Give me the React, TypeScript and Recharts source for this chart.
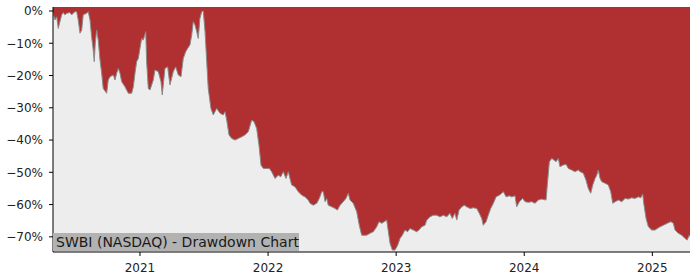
import { Area, AreaChart, XAxis, YAxis } from "recharts"

// time as decimal year, drawdown in percent
const years = [
  2020.321, 2020.336, 2020.35, 2020.362, 2020.375, 2020.389, 2020.401, 2020.414, 2020.428, 2020.453,
  2020.467, 2020.492, 2020.506, 2020.518, 2020.532, 2020.545, 2020.557, 2020.584, 2020.596, 2020.61,
  2020.623, 2020.635, 2020.643, 2020.651, 2020.662, 2020.674, 2020.688, 2020.701, 2020.713, 2020.74,
  2020.752, 2020.766, 2020.792, 2020.805, 2020.818, 2020.831, 2020.844, 2020.857, 2020.883, 2020.909,
  2020.935, 2020.948, 2020.961, 2020.974, 2020.987, 2021.0, 2021.013, 2021.026, 2021.045, 2021.052,
  2021.065, 2021.078, 2021.104, 2021.117, 2021.143, 2021.164, 2021.174, 2021.195, 2021.216, 2021.234,
  2021.26, 2021.279, 2021.299, 2021.32, 2021.338, 2021.357, 2021.372, 2021.39, 2021.404, 2021.416,
  2021.429, 2021.443, 2021.455, 2021.468, 2021.482, 2021.494, 2021.508, 2021.521, 2021.533, 2021.554,
  2021.572, 2021.599, 2021.625, 2021.65, 2021.664, 2021.677, 2021.695, 2021.716, 2021.742, 2021.768,
  2021.794, 2021.82, 2021.846, 2021.872, 2021.89, 2021.911, 2021.929, 2021.945, 2021.963, 2022.01,
  2022.028, 2022.054, 2022.08, 2022.099, 2022.119, 2022.14, 2022.158, 2022.171, 2022.184, 2022.21,
  2022.236, 2022.263, 2022.288, 2022.314, 2022.327, 2022.353, 2022.38, 2022.4, 2022.419, 2022.431,
  2022.445, 2022.458, 2022.47, 2022.497, 2022.523, 2022.541, 2022.562, 2022.587, 2022.608, 2022.626,
  2022.64, 2022.665, 2022.692, 2022.712, 2022.731, 2022.77, 2022.796, 2022.822, 2022.848, 2022.866,
  2022.887, 2022.908, 2022.926, 2022.939, 2022.952, 2022.97, 2022.991, 2023.012, 2023.03, 2023.048,
  2023.069, 2023.09, 2023.108, 2023.134, 2023.16, 2023.178, 2023.199, 2023.225, 2023.239, 2023.264,
  2023.29, 2023.317, 2023.342, 2023.368, 2023.395, 2023.42, 2023.438, 2023.459, 2023.473, 2023.491,
  2023.512, 2023.532, 2023.551, 2023.577, 2023.602, 2023.629, 2023.649, 2023.668, 2023.68, 2023.702,
  2023.719, 2023.738, 2023.759, 2023.78, 2023.805, 2023.824, 2023.837, 2023.858, 2023.883, 2023.902,
  2023.928, 2023.941, 2023.962, 2023.988, 2024.006, 2024.032, 2024.058, 2024.084, 2024.11, 2024.136,
  2024.17, 2024.18, 2024.196, 2024.215, 2024.232, 2024.248, 2024.266, 2024.279, 2024.3, 2024.326,
  2024.344, 2024.371, 2024.396, 2024.422, 2024.436, 2024.461, 2024.482, 2024.5, 2024.519, 2024.535,
  2024.553, 2024.566, 2024.578, 2024.592, 2024.605, 2024.631, 2024.656, 2024.675, 2024.691, 2024.709,
  2024.735, 2024.761, 2024.787, 2024.813, 2024.839, 2024.865, 2024.891, 2024.909, 2024.925, 2024.935,
  2024.951, 2024.969, 2024.995, 2025.021, 2025.039, 2025.06, 2025.086, 2025.117, 2025.144, 2025.164,
  2025.177, 2025.203, 2025.23, 2025.255, 2025.273, 2025.287, 2025.294,
]

const drawdown = [
  -0.5, -2.8, -1.8, -5.4, -3.3, -1.2, -0.5, -1.2, -0.7, -0.5,
  -1.2, -0.2, -0.2, -2.8, -6.9, -5.9, -1.2, -0.7, -0.2, -2.8,
  -8.2, -12.1, -15.7, -10.0, -5.9, -9.0, -15.2, -19.3, -24.0, -25.5,
  -21.4, -20.4, -19.8, -21.4, -19.3, -17.8, -19.3, -21.9, -23.5, -25.5,
  -25.5, -23.5, -19.3, -15.7, -14.7, -11.6, -8.5, -9.0, -6.4, -15.7,
  -24.0, -24.5, -21.4, -18.3, -18.8, -21.9, -26.0, -17.8, -17.3, -22.9,
  -18.8, -17.3, -19.8, -20.4, -14.7, -12.6, -11.6, -10.5, -7.4, -3.3,
  -4.3, -6.4, -8.5, -2.3, -0.2, 0, -6.4, -15.7, -24.0, -30.2,
  -32.2, -30.2, -31.7, -32.2, -31.2, -33.8, -38.4, -39.5, -40.0, -39.5,
  -39.0, -38.4, -37.4, -33.8, -34.3, -36.4, -41.6, -47.8, -48.8, -48.8,
  -49.8, -51.9, -50.9, -51.4, -49.8, -51.9, -49.8, -51.9, -53.9, -54.5,
  -56.0, -57.1, -57.6, -58.6, -59.6, -60.2, -59.6, -58.1, -56.0, -56.0,
  -59.1, -58.1, -60.2, -60.7, -61.2, -61.7, -60.2, -59.1, -58.1, -56.5,
  -58.6, -59.6, -62.2, -66.4, -69.5, -69.5, -68.9, -68.4, -66.9, -65.3,
  -65.8, -65.3, -64.8, -68.4, -72.0, -74.1, -74.1, -72.6, -70.5, -69.5,
  -67.9, -68.4, -67.4, -67.9, -68.4, -67.9, -66.9, -66.4, -64.8, -63.8,
  -63.3, -63.3, -63.8, -63.3, -63.8, -62.7, -64.3, -62.7, -64.8, -61.7,
  -60.7, -60.2, -60.7, -61.2, -61.0, -61.2, -62.7, -64.3, -66.4, -65.3,
  -63.3, -61.2, -59.6, -57.6, -57.1, -56.5, -56.0, -57.6, -57.3, -57.6,
  -57.3, -60.7, -59.1, -58.1, -59.1, -59.3, -59.1, -59.6, -58.6, -58.3,
  -58.6, -53.9, -46.7, -45.7, -46.2, -46.7, -45.7, -48.3, -47.8, -47.5,
  -48.8, -49.3, -49.8, -49.3, -49.8, -50.3, -52.4, -55.0, -56.5, -53.9,
  -51.9, -50.9, -49.3, -51.9, -52.9, -53.4, -53.9, -56.0, -59.6, -59.1,
  -58.6, -59.1, -58.1, -58.3, -57.9, -58.1, -57.6, -57.9, -56.8, -60.2,
  -64.3, -66.9, -67.9, -67.9, -67.4, -66.9, -66.4, -65.8, -65.3, -65.8,
  -67.9, -68.9, -69.5, -70.5, -71.0, -69.5, -70.0,
]

const yearTicks = [2021, 2022, 2023, 2024, 2025]
const pctTicks = [0, -10, -20, -30, -40, -50, -60, -70]
const title = "SWBI (NASDAQ) - Drawdown Chart"

const Y_TOP = 1.24
const Y_BOTTOM = -74.7

const data = years.map((year, i) => ({ year, dd: drawdown[i] }))
const xDomain = [years[0], years[years.length - 1]]

const font = "'DejaVu Sans', sans-serif"
const tickStyle = { fill: "#222", fontSize: 12, fontFamily: font }

const fmtPct = (v: number) => (v < 0 ? `\u2212${-v}%` : `${v}%`)

export default function App() {
  return (
    <div style={{ position: "relative", width: 700, height: 280, background: "#fff" }}>
      <style>{`body{margin:0}`}</style>
      <AreaChart width={700} height={280} data={data} margin={{ top: 7, right: 10, bottom: 0, left: 8 }}>
        <XAxis
          dataKey="year"
          type="number"
          domain={xDomain}
          ticks={yearTicks}
          tickFormatter={(v) => String(v)}
          allowDataOverflow
          height={28}
          tickSize={4}
          tickMargin={7}
          tick={tickStyle}
          axisLine={{ stroke: "#000" }}
          tickLine={{ stroke: "#000" }}
        />
        <XAxis
          xAxisId="top"
          orientation="top"
          dataKey="year"
          type="number"
          domain={xDomain}
          height={0}
          tick={false}
          tickLine={false}
          axisLine={{ stroke: "#000" }}
        />
        <YAxis
          type="number"
          domain={[Y_BOTTOM, Y_TOP]}
          ticks={pctTicks}
          tickFormatter={fmtPct}
          allowDataOverflow
          width={45}
          tickSize={4}
          tickMargin={6}
          tick={tickStyle}
          axisLine={{ stroke: "#000" }}
          tickLine={{ stroke: "#000" }}
        />
        <YAxis
          yAxisId="right"
          orientation="right"
          domain={[0, 1]}
          width={0}
          tick={false}
          tickLine={false}
          axisLine={{ stroke: "#000" }}
        />
        <Area
          type="linear"
          dataKey="dd"
          baseValue={Y_BOTTOM}
          fill="#ededed"
          fillOpacity={1}
          stroke="none"
          isAnimationActive={false}
          dot={false}
          activeDot={false}
        />
        <Area
          type="linear"
          dataKey="dd"
          baseValue={Y_TOP}
          fill="#b03031"
          fillOpacity={1}
          stroke="#8a8a8a"
          strokeWidth={1}
          isAnimationActive={false}
          dot={false}
          activeDot={false}
        />
      </AreaChart>
      <div
        style={{
          position: "absolute",
          left: 53,
          top: 233,
          width: 246,
          height: 18,
          background: "#b2b2b2",
          color: "#1a1a1a",
          fontFamily: font,
          fontSize: 14,
          lineHeight: "18px",
          paddingLeft: 3,
          boxSizing: "border-box",
          whiteSpace: "nowrap",
        }}
      >
        {title}
      </div>
    </div>
  )
}
